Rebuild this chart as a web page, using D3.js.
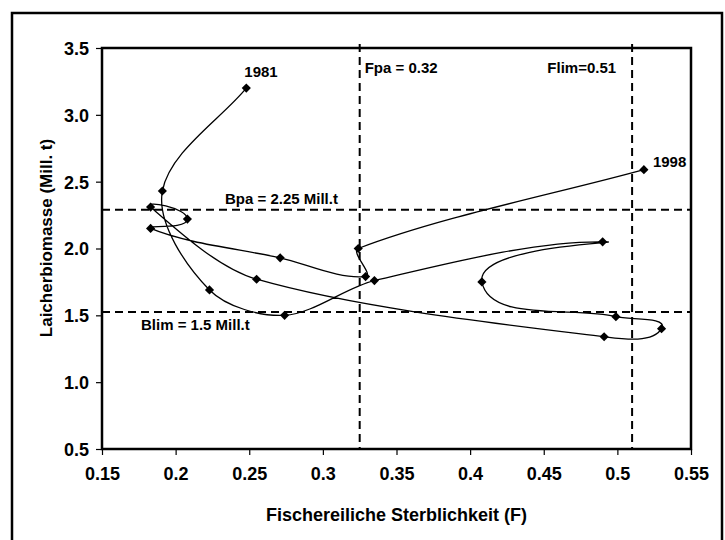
<!DOCTYPE html>
<html>
<head>
<meta charset="utf-8">
<script src="https://cdn.jsdelivr.net/npm/d3@7"></script>
<style>
  body { margin: 0; background: #fff; }
  text { font-family: "Liberation Sans", Arial, sans-serif; font-weight: bold; fill: #000; }
</style>
</head>
<body>
<div id="chart"></div>
<script>
// Laicherbiomasse vs. fischereiliche Sterblichkeit, 1981 - 1998

// years of the trajectory (in drawing order)
var years = [1981, 1982, 1983, 1984, 1985, 1986, 1987, 1988, 1989,
  1990, 1991, 1992, 1993, 1994, 1995, 1996, 1997, 1998];
// fishing mortality F
var fValues = [0.248, 0.191, 0.223, 0.274, 0.335, 0.490, 0.408, 0.499, 0.530,
  0.491, 0.255, 0.183, 0.208, 0.183, 0.271, 0.329, 0.324, 0.518];
// spawning biomass (Mill. t)
var ssbValues = [3.20, 2.43, 1.69, 1.50, 1.76, 2.05, 1.75, 1.49, 1.40,
  1.34, 1.77, 2.31, 2.22, 2.15, 1.93, 1.79, 2.00, 2.59];

// reference points
var refF = [0.325, 0.51];
var refFLabels = ["Fpa = 0.32", "Flim=0.51"];
var refB = [2.29, 1.525];
var refBLabels = ["Bpa = 2.25 Mill.t", "Blim = 1.5 Mill.t"];

// tick values
var xTicks = [0.15, 0.2, 0.25, 0.3, 0.35, 0.4, 0.45, 0.5, 0.55];
var yTicks = [0.5, 1.0, 1.5, 2.0, 2.5, 3.0, 3.5];

var width = 725;
var height = 540;
var plotL = 102, plotR = 691, plotT = 48, plotB = 449;

// excel-like smoothing: tangent direction from the neighbours,
// handle length from the segment itself (so long neighbours don't make loops)
function SmoothCurve(context) { this._context = context; }
SmoothCurve.prototype = {
  areaStart: function() {},
  areaEnd: function() {},
  lineStart: function() { this._pts = []; },
  point: function(px, py) { this._pts.push([+px, +py]); },
  lineEnd: function() {
    var p = this._pts, c = this._context, k = 0.3;
    if (!p.length) return;
    function dir(i) {
      var a = p[Math.max(i - 1, 0)], b = p[Math.min(i + 1, p.length - 1)];
      var dx = b[0] - a[0], dy = b[1] - a[1], l = Math.sqrt(dx * dx + dy * dy) || 1;
      return [dx / l, dy / l];
    }
    c.moveTo(p[0][0], p[0][1]);
    for (var i = 0; i < p.length - 1; i++) {
      var a = p[i], b = p[i + 1];
      var len = Math.hypot(b[0] - a[0], b[1] - a[1]);
      var d0 = dir(i), d1 = dir(i + 1);
      c.bezierCurveTo(a[0] + d0[0] * len * k, a[1] + d0[1] * len * k,
        b[0] - d1[0] * len * k, b[1] - d1[1] * len * k, b[0], b[1]);
    }
  }
};
function curveSmooth(context) { return new SmoothCurve(context); }

var svg = d3.select("#chart")
  .append("svg")
  .attr("width", width)
  .attr("height", height);

// outer frame (bottom edge runs off the picture)
svg.append("rect")
  .attr("x", 12).attr("y", 13)
  .attr("width", 710).attr("height", 560)
  .attr("fill", "none")
  .attr("stroke", "#000")
  .attr("stroke-width", 2.5);

var x = d3.scaleLinear().domain([0.15, 0.55]).range([plotL, plotR]);
var y = d3.scaleLinear().domain([0.5, 3.5]).range([plotB, plotT]);

// axes
var xAxis = svg.append("g")
  .attr("transform", "translate(0," + plotB + ")")
  .call(d3.axisBottom(x).tickValues(xTicks).tickSize(6).tickPadding(12)
    .tickFormat(function(d) { return String(+d.toFixed(2)); }));
var yAxis = svg.append("g")
  .attr("transform", "translate(" + plotL + ",0)")
  .call(d3.axisLeft(y).tickValues(yTicks).tickSize(6).tickPadding(7)
    .tickFormat(d3.format(".1f")));

[xAxis, yAxis].forEach(function(a) {
  a.select(".domain").remove();
  a.selectAll("line").attr("stroke", "#000").attr("stroke-width", 1.2);
  a.selectAll("text").attr("font-size", 18).attr("font-family", null).attr("fill", "#000");
});
yAxis.selectAll("text").attr("dy", "0.36em");

// reference lines (dashed)
svg.selectAll(".vref")
  .data(refF)
  .enter()
  .append("line")
  .attr("class", "vref")
  .attr("x1", d => x(d)).attr("x2", d => x(d))
  .attr("y1", plotT - 4).attr("y2", plotB)
  .attr("stroke", "#000")
  .attr("stroke-width", 2)
  .attr("stroke-dasharray", "8,5");

svg.selectAll(".href")
  .data(refB)
  .enter()
  .append("line")
  .attr("class", "href")
  .attr("x1", plotL).attr("x2", plotR)
  .attr("y1", d => y(d)).attr("y2", d => y(d))
  .attr("stroke", "#000")
  .attr("stroke-width", 2)
  .attr("stroke-dasharray", "8,5");

// plot frame
svg.append("rect")
  .attr("x", plotL).attr("y", plotT)
  .attr("width", plotR - plotL).attr("height", plotB - plotT)
  .attr("fill", "none")
  .attr("stroke", "#000")
  .attr("stroke-width", 2.5);

// trajectory
var points = fValues.map(function(f, i) { return { f: f, b: ssbValues[i], year: years[i] }; });

var line = d3.line()
  .x(d => x(d.f))
  .y(d => y(d.b))
  .curve(curveSmooth);

svg.append("path")
  .datum(points)
  .attr("d", line)
  .attr("fill", "none")
  .attr("stroke", "#000")
  .attr("stroke-width", 1.3);

// diamond markers
svg.selectAll(".marker")
  .data(points)
  .enter()
  .append("path")
  .attr("class", "marker")
  .attr("d", d3.symbol(d3.symbolSquare).size(42))
  .attr("transform", d => "translate(" + x(d.f) + "," + y(d.b) + ") rotate(45)")
  .attr("fill", "#000");

// year labels at start and end
var first = points[0], last = points[points.length - 1];
svg.append("text")
  .attr("x", x(first.f) - 2).attr("y", y(first.b) - 11)
  .attr("font-size", 15)
  .text(first.year);
svg.append("text")
  .attr("x", x(last.f) + 9).attr("y", y(last.b) - 3)
  .attr("font-size", 15)
  .text(last.year);

// reference labels
svg.append("text")
  .attr("x", x(refF[0]) + 5).attr("y", 73)
  .attr("font-size", 15)
  .text(refFLabels[0]);
svg.append("text")
  .attr("x", x(refF[1]) - 16).attr("y", 73)
  .attr("text-anchor", "end")
  .attr("font-size", 15)
  .text(refFLabels[1]);
svg.append("text")
  .attr("x", 225).attr("y", y(refB[0]) - 6)
  .attr("font-size", 15)
  .text(refBLabels[0]);
svg.append("text")
  .attr("x", 141).attr("y", y(refB[1]) + 18)
  .attr("font-size", 15)
  .text(refBLabels[1]);

// axis titles
svg.append("text")
  .attr("x", (plotL + plotR) / 2).attr("y", 521)
  .attr("text-anchor", "middle")
  .attr("font-size", 18)
  .text("Fischereiliche Sterblichkeit (F)");
svg.append("text")
  .attr("transform", "translate(52,238) rotate(-90)")
  .attr("text-anchor", "middle")
  .attr("font-size", 17)
  .text("Laicherbiomasse (Mill. t)");
</script>
</body>
</html>
